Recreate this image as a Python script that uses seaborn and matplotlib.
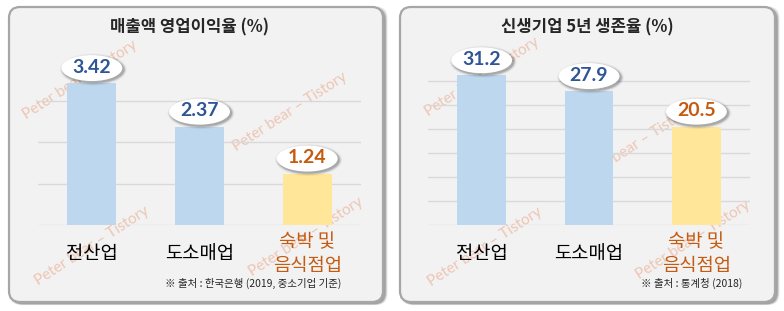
import numpy as np
import pandas as pd
import matplotlib
matplotlib.use('Agg')
import matplotlib.pyplot as plt
import seaborn as sns
from matplotlib.patches import FancyBboxPatch, Ellipse
from matplotlib.transforms import ScaledTranslation

# ---- data ----
categories = ['전산업', '도소매업', '숙박 및\n음식점업']
margin_values = [3.42, 2.37, 1.24]
survival_values = [31.2, 27.9, 20.5]
margin_labels = ['3.42', '2.37', '1.24']
survival_labels = ['31.2', '27.9', '20.5']
titles = ['매출액 영업이익율 (%)', '신생기업 5년 생존율 (%)']
sources = ['※ 출처 : 한국은행 (2019, 중소기업 기준)', '※ 출처 : 통계청 (2018)']
margin_grid = [0, 1, 2, 3]
survival_grid = [0, 5, 10, 15, 20, 25, 30]
watermark = 'Peter bear – Tistory'

BLUE_BAR = '#BDD7EE'
YELLOW_BAR = '#FFE699'
BLUE_TXT = '#2F5597'
ORANGE_TXT = '#C55A11'
bar_colors = [BLUE_BAR, BLUE_BAR, YELLOW_BAR]
text_colors = [BLUE_TXT, BLUE_TXT, ORANGE_TXT]

sns.set_style('white')
plt.rcParams['font.family'] = ['Noto Sans CJK KR', 'DejaVu Sans']

W, H = 784, 311
fig = plt.figure(figsize=(W / 100, H / 100), dpi=100)
fig.patch.set_facecolor('white')


def px_axes(x0, y0, x1, y1):
    return [x0 / W, 1 - y1 / H, (x1 - x0) / W, (y1 - y0) / H]


# ---- panels ----
for (x0, x1) in [(9, 383), (400, 775)]:
    y0, y1 = 7, 302
    for k, a in [(4, 0.05), (3, 0.08), (2, 0.12), (1, 0.16)]:
        sh = FancyBboxPatch(((x0 + 2 - k * 0.3) / 100, (H - y1 - 2 - k * 0.3) / 100),
                            (x1 - x0 + k) / 100, (y1 - y0 + k) / 100,
                            boxstyle='round,pad=0,rounding_size=0.12',
                            transform=fig.dpi_scale_trans, facecolor='black',
                            edgecolor='none', alpha=a, zorder=0)
        fig.add_artist(sh)
    p = FancyBboxPatch((x0 / 100, (H - y1) / 100), (x1 - x0) / 100, (y1 - y0) / 100,
                       boxstyle='round,pad=0,rounding_size=0.11',
                       transform=fig.dpi_scale_trans, facecolor='#F2F2F2',
                       edgecolor='#A6A6A6', linewidth=1.6, zorder=0.2)
    fig.add_artist(p)

# ---- watermarks (behind bars) ----
wm_pos = [(80, 80), (290, 112), (92, 246), (306, 237),
          (482, 77), (636, 145), (485, 247), (693, 240)]
for cx, cy in wm_pos:
    fig.text(cx / W, 1 - cy / H, watermark, rotation=33, rotation_mode='anchor',
             ha='center', va='center', fontsize=11, color='#EDC6B4',
             family=['Lato', 'DejaVu Sans'], zorder=1)


def ellipse_label(ax, x, v, text, color, w=61, h=26, dy=15):
    trans = fig.dpi_scale_trans + ScaledTranslation(x, v, ax.transData)
    for k, a in [(3.0, 0.04), (2.0, 0.07), (1.2, 0.10), (0.5, 0.12)]:
        e = Ellipse((0.015, dy / 100 - 0.015), (w + 2 * k) / 100, (h + 2 * k) / 100,
                    transform=trans, facecolor='black', edgecolor='none',
                    alpha=a, zorder=4, clip_on=False)
        ax.add_artist(e)
    e = Ellipse((0, dy / 100), w / 100, h / 100, transform=trans, facecolor='white',
                edgecolor='none', zorder=5, clip_on=False)
    ax.add_artist(e)
    ax.annotate(text, xy=(x, v), xytext=(0, dy + 1), textcoords='offset pixels',
                ha='center', va='center', fontsize=14, fontweight='bold', color=color,
                family=['Lato', 'DejaVu Sans'], zorder=6, annotation_clip=False)


def panel(rect, values, labels, grid, ymax, title, title_x, source, source_x):
    ax = fig.add_axes(px_axes(*rect))
    ax.set_zorder(2)
    ax.patch.set_alpha(0)
    df = pd.DataFrame({'cat': categories, 'val': values})
    sns.barplot(data=df, x='cat', y='val', hue='cat', palette=bar_colors,
                width=0.456, saturation=1, legend=False, ax=ax, zorder=3,
                edgecolor='none', linewidth=0)
    ax.set_xlim(-0.5, 2.5)
    ax.set_ylim(0, ymax)
    ax.set_yticks(grid)
    ax.yaxis.grid(True, color='#D9D9D9', linewidth=1)
    ax.set_axisbelow(True)
    ax.tick_params(left=False, labelleft=False, bottom=False, pad=17)
    sns.despine(ax=ax, left=True, bottom=True, top=True, right=True)
    ax.set_xlabel('')
    ax.set_ylabel('')
    ax.set_xticks(range(len(categories)))
    ax.set_xticklabels(categories, fontsize=13.5, va='center', linespacing=1.2)
    for lbl, c in zip(ax.get_xticklabels(), ['black', 'black', ORANGE_TXT]):
        lbl.set_color(c)
    for i, (v, t) in enumerate(zip(values, labels)):
        ellipse_label(ax, i, v, t, text_colors[i])
    fig.text(title_x / W, 1 - 27 / H, title, ha='center', va='center',
             fontsize=12, fontweight='bold', zorder=3)
    fig.text(source_x / W, 1 - 283 / H, source, ha='right', va='center',
             fontsize=7.5, zorder=3)
    return ax


panel((38, 45, 361, 225), margin_values, margin_labels, margin_grid, 180 / 41.5,
      titles[0], 190, sources[0], 341)
panel((428, 45, 750, 225), survival_values, survival_labels, survival_grid, 180 / 4.8,
      titles[1], 587, sources[1], 742)

fig.savefig('out.png', dpi=100, facecolor='white')
